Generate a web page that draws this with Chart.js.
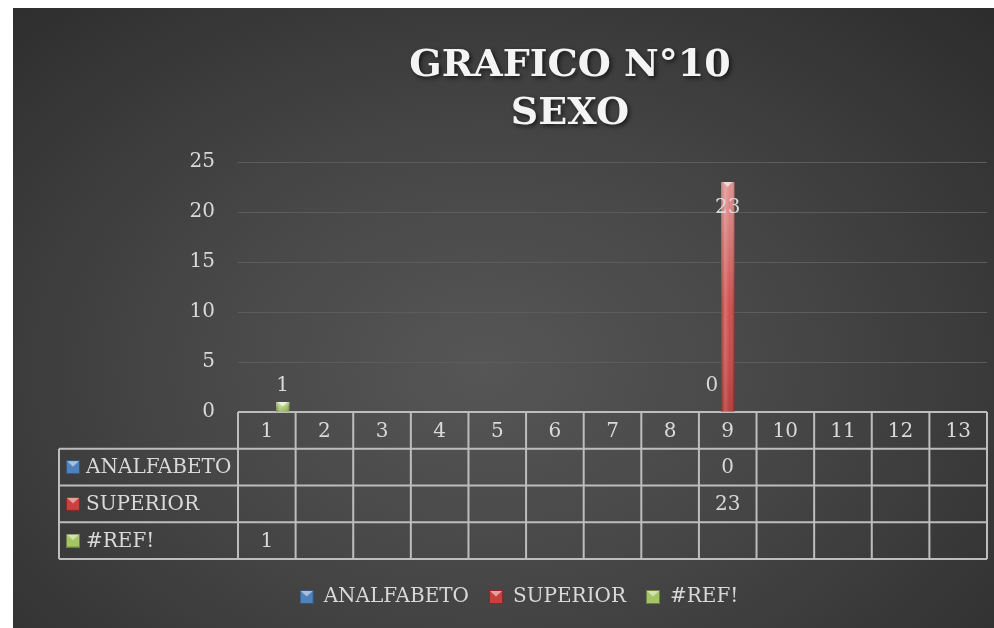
<!DOCTYPE html>
<html>
<head>
<meta charset="utf-8">
<script src="https://cdn.jsdelivr.net/npm/chart.js@4.4.1/dist/chart.umd.min.js"></script>
<style>
html, body { margin: 0; padding: 0; background: #fff; }
#box {
  position: absolute; left: 13px; top: 8px; width: 981px; height: 620px;
  background: radial-gradient(ellipse 75% 85% at 48% 58%, #565656 0%, #474747 40%, #2b2b2b 100%);
}
canvas { display: block; }
</style>
</head>
<body>
<div id="box"><canvas id="grafico" width="981" height="620"></canvas></div>
<script>
// datos del grafico
const titleLines = ['GRAFICO N°10', 'SEXO'];
const categories = ['1', '2', '3', '4', '5', '6', '7', '8', '9', '10', '11', '12', '13'];
const analfabeto = [null, null, null, null, null, null, null, null, 0, null, null, null, null];
const superior = [null, null, null, null, null, null, null, null, 23, null, null, null, null];
const refError = [1, null, null, null, null, null, null, null, null, null, null, null, null];
const seriesNames = ['ANALFABETO', 'SUPERIOR', '#REF!'];
const seriesColors = ['#4f81bd', '#c9413e', '#a5c564'];
const yMax = 25;
const yStep = 5;

const FONT = '"DejaVu Serif"';
const TEXT = '#d9d9d9';

// marcador con bisel para leyenda y tabla
function makeMarker(color) {
  const c = document.createElement('canvas');
  c.width = 14; c.height = 14;
  const g = c.getContext('2d');
  g.fillStyle = color;
  g.fillRect(0, 0, 14, 14);
  g.fillStyle = 'rgba(255,255,255,0.5)';
  g.beginPath(); g.moveTo(1, 1); g.lineTo(13, 1); g.lineTo(7, 6.5); g.closePath(); g.fill();
  g.strokeStyle = 'rgba(0,0,0,0.35)';
  g.strokeRect(0.5, 0.5, 13, 13);
  return c;
}
const markers = seriesColors.map(makeMarker);

const titlePlugin = {
  id: 'titulo',
  afterDraw(chart) {
    const ctx = chart.ctx;
    ctx.save();
    ctx.font = 'bold 38px ' + FONT;
    ctx.fillStyle = '#f4f4f4';
    ctx.textAlign = 'center';
    ctx.textBaseline = 'alphabetic';
    ctx.shadowColor = 'rgba(0,0,0,0.65)';
    ctx.shadowBlur = 4; ctx.shadowOffsetX = 2; ctx.shadowOffsetY = 2;
    titleLines.forEach((t, i) => ctx.fillText(t, 557, 68 + i * 48));
    ctx.restore();
  }
};

// tabla de datos bajo el eje
const tablePlugin = {
  id: 'tabla',
  beforeDatasetsDraw(chart) {
    const { ctx, chartArea, scales: { x } } = chart;
    const rowH = 36.75, top = chartArea.bottom, leftX = 46;
    const n = categories.length, colW = (x.right - x.left) / n;
    const rows = chart.data.datasets.length;
    const bottom = top + rowH * (rows + 1);
    ctx.save();
    ctx.strokeStyle = '#bdbdbd';
    ctx.lineWidth = 2;
    ctx.beginPath();
    ctx.moveTo(x.left, top); ctx.lineTo(x.right, top);
    for (let r = 1; r <= rows + 1; r++) {
      ctx.moveTo(leftX, top + r * rowH); ctx.lineTo(x.right, top + r * rowH);
    }
    for (let i = 0; i <= n; i++) {
      const px = x.left + i * colW;
      ctx.moveTo(px, top); ctx.lineTo(px, bottom);
    }
    ctx.moveTo(leftX, top + rowH); ctx.lineTo(leftX, bottom);
    ctx.stroke();

    ctx.fillStyle = TEXT;
    ctx.font = '20px ' + FONT;
    ctx.textBaseline = 'middle';
    ctx.textAlign = 'center';
    categories.forEach((c, i) => ctx.fillText(c, x.getPixelForValue(i), top + rowH / 2 + 1));
    chart.data.datasets.forEach((ds, r) => {
      const cy = top + rowH * (r + 1.5);
      ctx.textAlign = 'center';
      ds.data.forEach((v, i) => {
        if (v !== null) ctx.fillText(String(v), x.getPixelForValue(i), cy + 1);
      });
      ctx.drawImage(markers[r], 53, cy - 7);
      ctx.textAlign = 'left';
      ctx.fillText(ds.label, 73, cy + 1);
    });
    ctx.restore();
  }
};

// brillo tipo 3D sobre las barras
const shadePlugin = {
  id: 'sombreado',
  afterDatasetsDraw(chart) {
    const ctx = chart.ctx;
    chart.data.datasets.forEach((ds, d) => {
      chart.getDatasetMeta(d).data.forEach((bar, i) => {
        if (ds.data[i] === null) return;
        const { x, y, base, width } = bar.getProps(['x', 'y', 'base', 'width'], true);
        const h = base - y;
        if (h < 1) return;
        const l = x - width / 2;
        ctx.save();
        let g = ctx.createLinearGradient(l, 0, l + width, 0);
        g.addColorStop(0, 'rgba(0,0,0,0.22)');
        g.addColorStop(0.3, 'rgba(255,255,255,0.22)');
        g.addColorStop(0.65, 'rgba(255,255,255,0.02)');
        g.addColorStop(1, 'rgba(0,0,0,0.30)');
        ctx.fillStyle = g;
        ctx.fillRect(l, y, width, h);
        g = ctx.createLinearGradient(0, y, 0, base);
        g.addColorStop(0, 'rgba(255,255,255,0.42)');
        g.addColorStop(0.55, 'rgba(255,255,255,0.05)');
        g.addColorStop(1, 'rgba(40,0,0,0.12)');
        ctx.fillStyle = g;
        ctx.fillRect(l, y, width, h);
        ctx.fillStyle = 'rgba(255,255,255,0.6)';
        ctx.beginPath();
        ctx.moveTo(l + 2, y); ctx.lineTo(l + width - 2, y); ctx.lineTo(x, y + Math.min(5, h / 2));
        ctx.closePath(); ctx.fill();
        ctx.restore();
      });
    });
  }
};

const labelPlugin = {
  id: 'etiquetas',
  afterDatasetsDraw(chart) {
    const ctx = chart.ctx;
    const yS = chart.scales.y;
    ctx.save();
    ctx.font = '20px ' + FONT;
    ctx.fillStyle = TEXT;
    ctx.textAlign = 'center';
    ctx.textBaseline = 'middle';
    chart.data.datasets.forEach((ds, d) => {
      chart.getDatasetMeta(d).data.forEach((bar, i) => {
        const v = ds.data[i];
        if (v === null) return;
        const ly = v > yS.max * 0.8 ? bar.y + 26 : Math.min(bar.y, bar.base - 10) - 16;
        ctx.fillText(String(v), bar.x, ly);
      });
    });
    ctx.restore();
  }
};

const seriesData = [analfabeto, superior, refError];

new Chart(document.getElementById('grafico'), {
  type: 'bar',
  data: {
    labels: categories,
    datasets: seriesData.map((arr, k) => ({
      label: seriesNames[k],
      data: arr,
      backgroundColor: seriesColors[k],
      borderWidth: 0,
      pointStyle: markers[k],
      categoryPercentage: 0.828,
      barPercentage: 0.836
    }))
  },
  options: {
    responsive: false,
    animation: false,
    layout: { padding: { top: 154, right: 7, bottom: 11, left: 38 } },
    plugins: {
      title: { display: false },
      tooltip: { enabled: false },
      legend: {
        position: 'bottom',
        labels: {
          usePointStyle: true,
          boxWidth: 14,
          boxHeight: 14,
          padding: 20,
          color: TEXT,
          font: { family: FONT, size: 20 }
        }
      }
    },
    scales: {
      x: {
        grid: { display: false },
        border: { display: false },
        ticks: { display: false },
        afterFit(s) { s.height = 155; }
      },
      y: {
        min: 0,
        max: yMax,
        ticks: { stepSize: yStep, padding: 23, color: TEXT, font: { family: FONT, size: 20 } },
        grid: {
          drawTicks: false,
          color: c => (c.tick && c.tick.value === 0 ? 'rgba(0,0,0,0)' : '#5c5c5c'),
          lineWidth: 1
        },
        border: { display: false },
        afterFit(s) { s.width = 187; }
      }
    }
  },
  plugins: [tablePlugin, shadePlugin, labelPlugin, titlePlugin]
});
</script>
</body>
</html>
